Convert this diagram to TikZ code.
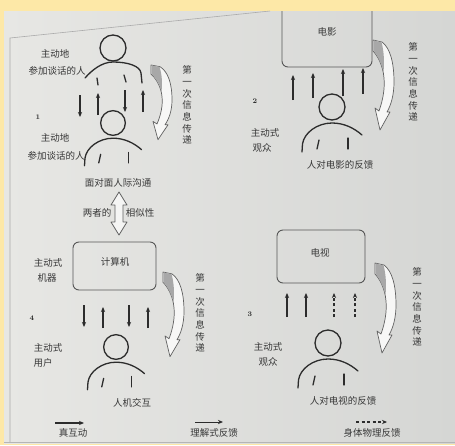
\documentclass[tikz,border=0pt]{standalone}
\usepackage{fontspec}
\newfontfamily\cjk{Noto Sans CJK SC}
\usetikzlibrary{arrows.meta}

\definecolor{paper}{HTML}{FDE8A7}
\definecolor{pagel}{HTML}{E7E7E4}
\definecolor{pager}{HTML}{D5D6D4}
\definecolor{ink}{HTML}{2C2C2C}
\definecolor{inkt}{HTML}{383838}
\definecolor{leaf}{HTML}{A8A8A8}

\tikzset{
  lbl/.style={font=\cjk\fontsize{9.5}{11}\selectfont, text=inkt, inner sep=0pt},
  vtext/.style={lbl, align=center, font=\cjk\fontsize{9.5}{11.7}\selectfont},
  num/.style={font=\bfseries\fontsize{7}{8}\selectfont, text=ink, inner sep=0pt},
  screen/.style={draw=ink!80, line width=0.9pt, rounded corners=6pt, inner sep=0pt},
  flow/.style={draw=ink, line width=1.1pt, -{Stealth[length=5pt,width=4.2pt]}},
  dflow/.style={flow, dash pattern=on 3pt off 2.5pt},
  figline/.style={draw=ink, line width=1.3pt, line cap=round},
  % head-and-shoulders figure, head centre at the origin
  pics/person/.style={code={
    \draw[figline] (0,0) circle[radius=13pt];
    \draw[figline] (-30,45) -- (-29.5,37)
      .. controls (-28,26) and (-15,16) .. (0,16)
      .. controls (12,16) and (22,21) .. (30,28);
    \draw[figline] (-13,33) -- (-15,42);
    \draw[figline] (16,31) -- (16,42);
  }},
  % bent ribbon arrow, origin at its upper left corner
  pics/turn/.style={code={
    \path[draw=ink!75, fill=white!65!pagel, line width=0.7pt, line join=round]
      (0,0) -- (9,2)
      .. controls (17,8) and (21,22) .. (21,42)
      .. controls (21,55) and (18,65) .. (14,72)
      -- (17,72) -- (7,90) -- (2,68) -- (6,71)
      .. controls (10,60) and (12,48) .. (11,38)
      .. controls (10,25) and (4,15) .. (0,11)
      -- cycle;
    \fill[leaf] (0.5,0.5) -- (8.6,2.3)
      .. controls (11,12) and (11.5,22) .. (10.5,32)
      .. controls (8,22) and (4,15) .. (0.5,10.5) -- cycle;
  }},
}

\begin{document}
\begin{tikzpicture}[x=1pt, y=-1pt]
\useasboundingbox (0,0) rectangle (455,445);
\fill[paper] (0,0) rectangle (455,445);
\shade[left color=pagel, right color=pager] (4,11) rectangle (455,443);
\draw[ink!40, line width=0.6pt] (10,442) -- (10,38) -- (270,11);
\draw[ink!35, line width=0.8pt] (4,442) -- (455,442);

\begin{scope}
\clip (4,11) rectangle (455,443);

% ---------- 1: face-to-face ----------
\draw[figline] (113,48) circle[radius=13pt];
\draw[figline] (85,78) .. controls (92,70) and (102,62) .. (113,62)
  .. controls (128,62) and (140,66) .. (141,73) -- (142,83);
\draw[figline] (97,78) -- (98,85);
\draw[figline] (124,75) -- (126,82);
\pic[scale=0.95] at (113,123) {person};

\foreach \n/\x/\a/\b in {1/80/95/117, 2/98/115/93, 3/125/90/112, 4/143/112/90}{
  \coordinate (fa\n) at (\x,\a);
  \coordinate (fb\n) at (\x,\b);
  \draw[flow] (fa\n) -- (fb\n);
}
\node[num] (n1) at (38,117) {1};
\node[lbl] (t1a) at (55,54) {主动地};
\node[lbl] (t1b) at (57,71) {参加谈话的人};
\node[lbl] (t1c) at (55,138) {主动地};
\node[lbl] (t1d) at (56,156) {参加谈话的人};
\node[lbl] (t1e) at (118,183) {面对面人际沟通};
\pic[yscale=0.83] at (151,65) {turn};
\node[vtext] (v1) at (187,105) {第\\一\\次\\信\\息\\传\\递};

% similarity arrow
\path[draw=ink!75, fill=white!60!pagel, line width=0.8pt, line join=round]
  (119,192) -- (127,205) -- (123,205) -- (123,222) -- (127,222) -- (119,235)
  -- (111,222) -- (115,222) -- (115,205) -- (111,205) -- cycle;
\node[lbl] (s1) at (97,213) {两者的};
\node[lbl] (s2) at (140,213) {相似性};

% ---------- 2: cinema ----------
\node[screen, minimum width=90pt, minimum height=72pt] (film) at (327,31) {};
\node[lbl] (filmt) at (327,32) {电影};
\foreach \n/\x/\a/\b in {1/293/100/75, 2/313/98/73, 3/343/96/69, 4/363/94/68}{
  \coordinate (ma\n) at (\x,\a);
  \coordinate (mb\n) at (\x,\b);
  \draw[flow] (ma\n) -- (mb\n);
}
\pic at (332,107) {person};
\node[num] (n2) at (255,101) {2};
\node[lbl] (t2a) at (265,133) {主动式};
\node[lbl] (t2b) at (262,148) {观众};
\node[lbl] (t2c) at (340,165) {人对电影的反馈};
\pic at (373,40) {turn};
\node[vtext] (v2) at (413,82) {第\\一\\次\\信\\息\\传\\递};

% ---------- 4: computer ----------
\node[screen, minimum width=83pt, minimum height=48pt] (pc) at (114.5,266) {};
\node[lbl] (pct) at (115,262) {计算机};
\node[lbl] (t4a) at (48,263) {主动式};
\node[lbl] (t4b) at (47,278) {机器};
\foreach \n/\x/\a/\b in {1/84/305/327, 2/103/328/307, 3/129/305/327, 4/148/328/307}{
  \coordinate (ca\n) at (\x,\a);
  \coordinate (cb\n) at (\x,\b);
  \draw[flow] (ca\n) -- (cb\n);
}
\node[num] (n4) at (32,318) {4};
\pic[scale=0.95] at (116,347) {person};
\node[lbl] (t4c) at (48,348) {主动式};
\node[lbl] (t4d) at (43,363) {用户};
\node[lbl] (t4e) at (132,403) {人机交互};
\pic[yscale=0.94] at (163,272) {turn};
\node[vtext] (v4) at (200,313) {第\\一\\次\\信\\息\\传\\递};

% ---------- 3: television ----------
\node[screen, minimum width=88pt, minimum height=53pt] (tv) at (321,256.5) {};
\node[lbl] (tvt) at (320,253) {电视};
\foreach \n/\x in {1/287, 2/306}{
  \coordinate (ta\n) at (\x,317);
  \coordinate (tb\n) at (\x,293);
  \draw[flow] (ta\n) -- (tb\n);
}
\foreach \n/\x in {3/334, 4/355}{
  \coordinate (ta\n) at (\x,317);
  \coordinate (tb\n) at (\x,293);
  \draw[dflow] (ta\n) -- (tb\n);
}
\node[num] (n3) at (250,314) {3};
\pic at (328,343) {person};
\node[lbl] (t3a) at (268,347) {主动式};
\node[lbl] (t3b) at (268,362) {观众};
\node[lbl] (t3c) at (343,401) {人对电视的反馈};
\pic at (375,263) {turn};
\node[vtext] (v3) at (417,307) {第\\一\\次\\信\\息\\传\\递};

% ---------- legend ----------
\coordinate (la1) at (55,423);  \coordinate (lb1) at (84,423);
\coordinate (la2) at (195,422); \coordinate (lb2) at (223,422);
\coordinate (la3) at (356,422); \coordinate (lb3) at (387,422);
\draw[flow, line width=1.8pt] (la1) -- (lb1);
\draw[flow, line width=0.9pt] (la2) -- (lb2);
\draw[dflow] (la3) -- (lb3);
\node[lbl] (k1) at (73,433) {真互动};
\node[lbl] (k2) at (214,433) {理解式反馈};
\node[lbl] (k3) at (372,433) {身体物理反馈};
\end{scope}
\end{tikzpicture}
\end{document}
